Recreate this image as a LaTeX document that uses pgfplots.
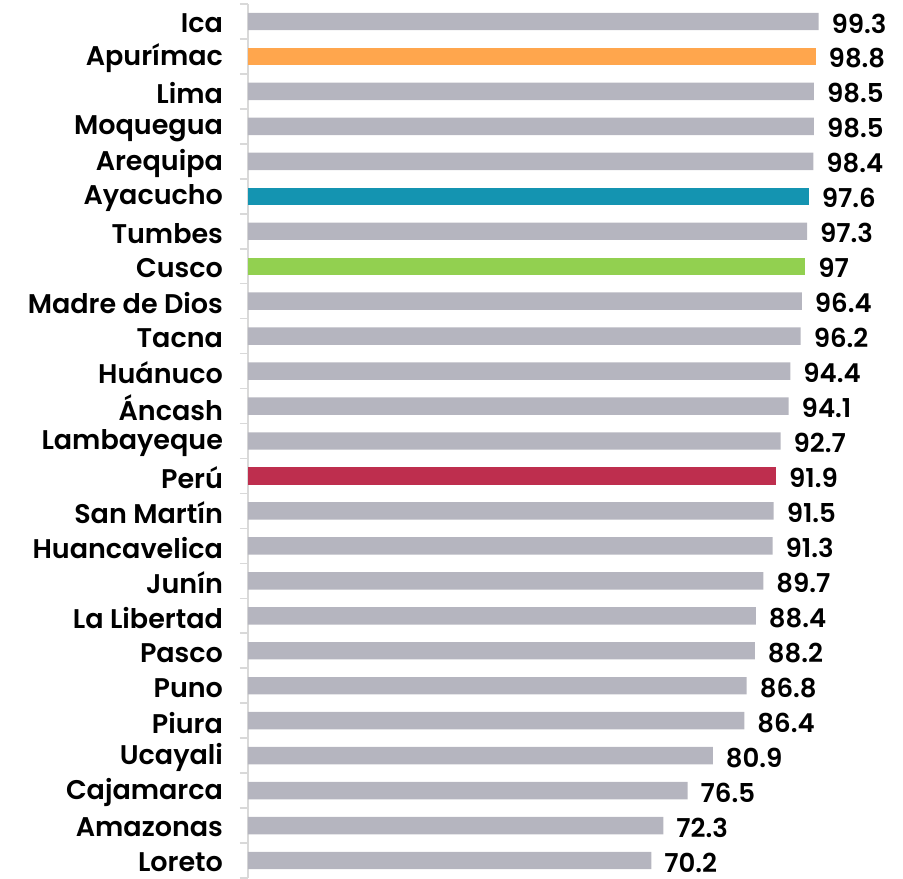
\documentclass[border=0pt]{standalone}
\usepackage{pgfplots}
\usepackage{pgfplotstable}
\pgfplotsset{compat=1.18}
\usepackage{fontspec}
\setmainfont{Poppins}[BoldFont={Poppins SemiBold}]
\definecolor{barg}{HTML}{B5B5BF}
\definecolor{baro}{HTML}{FFA64D}
\definecolor{bart}{HTML}{1494B1}
\definecolor{barv}{HTML}{92D050}
\definecolor{barr}{HTML}{BE2E4E}
\definecolor{axg}{HTML}{D9D9D9}
\pgfplotstableread{
y v
0 99.3
2 98.5
3 98.5
4 98.4
6 97.3
8 96.4
9 96.2
10 94.4
11 94.1
12 92.7
14 91.5
15 91.3
16 89.7
17 88.4
18 88.2
19 86.8
20 86.4
21 80.9
22 76.5
23 72.3
24 70.2
}\grayt
\begin{document}
\begin{tikzpicture}
\begin{axis}[name=ax,
  xbar, bar shift=0pt, bar width=8.7pt,
  width=327.5pt, height=437pt, scale only axis,
  xmin=0, xmax=114, ymin=-0.5, ymax=24.5, y dir=reverse,
  axis x line=none, axis y line=left,
  axis line style={axg, line width=0.8pt, -},
  ytick={0,...,24},
  yticklabels={Ica,Apurímac,Lima,Moquegua,Arequipa,Ayacucho,Tumbes,Cusco,Madre de Dios,Tacna,Huánuco,Áncash,Lambayeque,Perú,San Martín,Huancavelica,Junín,La Libertad,Pasco,Puno,Piura,Ucayali,Cajamarca,Amazonas,Loreto},
  yticklabel style={font=\fontsize{13.5}{15}\selectfont\bfseries, text=black, xshift=-9pt, yshift=-1pt},
  major tick length=0pt,
  minor ytick={-0.5,0.5,...,24.5},
  minor tick length=4pt,
  tick align=outside,
  minor tick style={axg, line width=0.8pt},
  /pgf/number format/assume math mode=true,
  nodes near coords,
  every node near coord/.append style={font=\fontsize{13}{14}\selectfont\bfseries, text=black, anchor=west, xshift=3pt, yshift=-1pt},
  clip=false,
]
\addplot[fill=barg, draw=none] table[x=v, y=y] {\grayt};
\addplot[fill=baro, draw=none] coordinates {(98.8,1)};
\addplot[fill=bart, draw=none] coordinates {(97.6,5)};
\addplot[fill=barv, draw=none] coordinates {(97,7)};
\addplot[fill=barr, draw=none] coordinates {(91.9,13)};
\end{axis}
\path (ax.south west) ++(-124pt,0pt) (ax.north east) ++(0,2pt);
\end{tikzpicture}
\end{document}
